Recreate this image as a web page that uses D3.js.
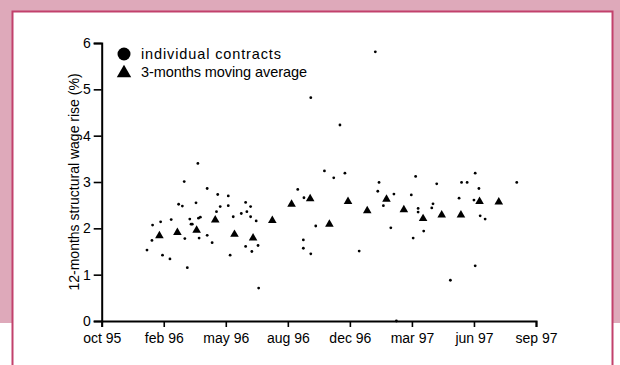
<!DOCTYPE html>
<html>
<head>
<meta charset="utf-8">
<script src="https://cdn.jsdelivr.net/npm/d3@7"></script>
<style>
  body { margin: 0; background: #fff; }
  svg { display: block; font-family: "Liberation Sans", Arial, sans-serif; }
</style>
</head>
<body>
<div id="chart"></div>
<script>
// x axis: a tick every 100 days, starting at the first label
const axisStart = "1995-10-31";
const tickLabels = ["oct 95", "feb 96", "may 96", "aug 96", "dec 96", "mar 97", "jun 97", "sep 97"];
const yTicks = [0, 1, 2, 3, 4, 5, 6];

// individual contracts
const contractDates = [
  "1996-01-12", "1996-01-20", "1996-01-21", "1996-02-03", "1996-02-06", "1996-02-18", "1996-02-20",
  "1996-03-03", "1996-03-09", "1996-03-12", "1996-03-13", "1996-03-17", "1996-03-21", "1996-03-23",
  "1996-03-25", "1996-03-31", "1996-04-03", "1996-04-04", "1996-04-07", "1996-04-05", "1996-04-18",
  "1996-04-18", "1996-04-26", "1996-05-03", "1996-05-05", "1996-05-09", "1996-05-22", "1996-05-22",
  "1996-05-25", "1996-05-30", "1996-06-12", "1996-06-19", "1996-06-21", "1996-06-27", "1996-06-27",
  "1996-06-19", "1996-06-29", "1996-07-06", "1996-07-09", "1996-07-10",
  "1996-09-11", "1996-09-21", "1996-10-10", "1996-09-20", "1996-09-20", "1996-10-02", "1996-10-24",
  "1996-11-08", "1996-11-26", "1996-12-19", "1997-01-20", "1997-01-18", "1997-01-27", "1997-02-08",
  "1997-02-13", "1997-03-13", "1997-03-20", "1997-03-24", "1997-03-24", "1997-03-16", "1997-04-02",
  "1997-04-15", "1997-04-17", "1997-04-23", "1997-05-15", "1997-05-29", "1997-06-02", "1997-06-11",
  "1997-06-22", "1997-06-24", "1997-06-30", "1997-07-02", "1997-07-10", "1997-06-24", "1997-08-30",
  "1997-01-14", "1996-10-02", "1996-11-18", "1997-02-17"
];
const contractRises = [
  1.53, 1.74, 2.07, 2.14, 1.42, 1.34, 2.19,
  2.52, 2.48, 3.01, 1.78, 1.15, 2.20, 2.09,
  2.09, 2.55, 3.40, 2.22, 2.24, 1.79, 2.86,
  1.85, 1.69, 2.36, 2.73, 2.47, 2.70, 2.49,
  1.42, 2.25, 2.32, 2.56, 2.36, 2.47, 2.25,
  1.61, 1.50, 2.16, 1.63, 0.71,
  2.84, 2.66, 2.05, 1.75, 1.57, 1.45, 3.24,
  3.09, 3.19, 1.51, 2.99, 2.80, 2.49, 2.01,
  2.74, 2.72, 3.12, 2.43, 2.35, 1.79, 1.94,
  2.44, 2.53, 2.96, 0.88, 2.65, 2.99, 2.99,
  2.61, 3.19, 2.86, 2.27, 2.20, 1.19, 2.99,
  5.81, 4.82, 4.23, 0.00
];

// 3-months moving average
const averageMonths = [
  "1996-02", "1996-03", "1996-04", "1996-05", "1996-06", "1996-07", "1996-08", "1996-09",
  "1996-10", "1996-11", "1996-12", "1997-01", "1997-02", "1997-03", "1997-04", "1997-05",
  "1997-06", "1997-07", "1997-08"
];
const averageRises = [
  1.84, 1.91, 1.96, 2.18, 1.87, 1.79, 2.17, 2.52,
  2.64, 2.09, 2.58, 2.38, 2.63, 2.40, 2.21, 2.29,
  2.29, 2.58, 2.57
];

const legendLabels = ["individual contracts", "3-months moving average"];

const width = 620;
const height = 365;
const plot = {left: 101.7, right: 536, top: 43, bottom: 321};

const parseDay = d3.timeParse("%Y-%m-%d");
const parseMonth = d3.timeParse("%Y-%m");
const start = parseDay(axisStart);
const tickDates = tickLabels.map((t, i) => d3.timeDay.offset(start, 100 * i));

const svg = d3.select("#chart").append("svg")
  .attr("width", width)
  .attr("height", height);

// page frame
svg.append("rect")
  .attr("width", width).attr("height", 323)
  .attr("fill", "#dea9ba");
svg.append("rect")
  .attr("x", 12.5).attr("y", 11.5)
  .attr("width", 600).attr("height", 360)
  .attr("fill", "#fff")
  .attr("stroke", "#c2416c")
  .attr("stroke-width", 2);

const x = d3.scaleTime()
  .domain([start, tickDates[tickDates.length - 1]])
  .range([plot.left, plot.right]);

const y = d3.scaleLinear()
  .domain([0, 6])
  .range([plot.bottom, plot.top]);

const styleAxis = g => {
  g.select(".domain").attr("stroke-width", 2);
  g.selectAll(".tick line").attr("stroke-width", 1.6);
  g.selectAll(".tick text").attr("fill", "#000").style("font-size", "14px");
};

svg.append("g")
    .attr("transform", `translate(0,${plot.bottom})`)
    .attr("font-family", null)
    .call(d3.axisBottom(x)
      .tickValues(tickDates)
      .tickFormat((d, i) => tickLabels[i])
      .tickSize(6)
      .tickPadding(6))
    .call(styleAxis);

svg.append("g")
    .attr("transform", `translate(${plot.left},0)`)
    .attr("font-family", null)
    .call(d3.axisLeft(y)
      .tickValues(yTicks)
      .tickFormat(d3.format("d"))
      .tickSize(8)
      .tickPadding(3))
    .call(styleAxis);

svg.append("text")
  .attr("transform", `translate(79,${(plot.top + plot.bottom) / 2}) rotate(-90)`)
  .attr("text-anchor", "middle")
  .style("font-size", "14px")
  .text("12-months structural wage rise (%)");

// marks
svg.append("g")
  .selectAll("circle")
  .data(contractDates.map((d, i) => ({date: parseDay(d), value: contractRises[i]})))
  .enter().append("circle")
    .attr("cx", d => x(d.date))
    .attr("cy", d => y(d.value))
    .attr("r", 1.4)
    .attr("fill", "#000");

const triangle = d3.symbol(d3.symbolTriangle, 32);
svg.append("g")
  .selectAll("path")
  .data(averageMonths.map((d, i) => ({date: parseMonth(d), value: averageRises[i]})))
  .enter().append("path")
    .attr("transform", d => `translate(${x(d.date)},${y(d.value)})`)
    .attr("d", triangle)
    .attr("fill", "#000");

// legend
const legend = svg.append("g").style("font-size", "14.5px");
legend.append("circle")
  .attr("cx", 124).attr("cy", 54).attr("r", 6.5);
legend.append("path")
  .attr("transform", "translate(124,73)")
  .attr("d", d3.symbol(d3.symbolTriangle, 90));
legend.selectAll("text")
  .data(legendLabels)
  .enter().append("text")
    .attr("x", 141)
    .attr("y", (d, i) => 54 + i * 18)
    .attr("dy", "0.35em")
    .attr("textLength", (d, i) => [140, 166][i])
    .attr("lengthAdjust", "spacing")
    .text(d => d);
</script>
</body>
</html>
